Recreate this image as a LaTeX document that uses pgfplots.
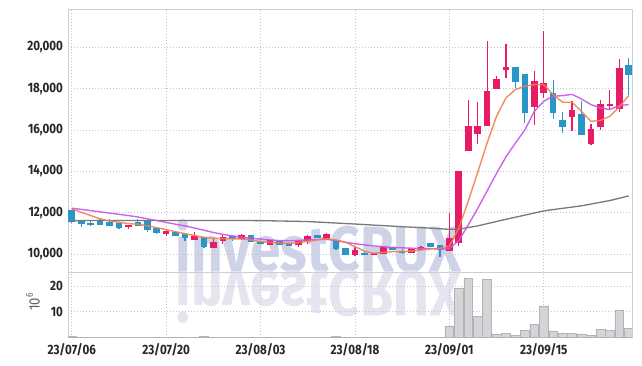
\documentclass[border=0pt]{standalone}
\usepackage{fontspec}
\setmainfont{Fira Sans}[FakeStretch=0.86]
\usepackage{pgfplots}
\pgfplotsset{compat=1.18}
\usepackage{pgfplotstable}

\definecolor{upc}{RGB}{232,28,100}
\definecolor{dnc}{RGB}{42,150,200}
\definecolor{ma1}{RGB}{240,128,80}
\definecolor{ma2}{RGB}{200,85,232}
\definecolor{ma3}{RGB}{120,120,120}
\definecolor{volf}{RGB}{213,213,216}
\definecolor{vold}{RGB}{178,178,184}
\definecolor{gridc}{RGB}{192,196,220}
\definecolor{framec}{RGB}{205,206,216}
\definecolor{txtc}{RGB}{38,38,38}
\definecolor{wm}{RGB}{206,211,231}
\definecolor{wmr}{RGB}{228,229,239}

\pgfplotstableread{
i o h l c
6 11295 11400 11200 11390
10 10970 11180 10870 11115
13 10710 11050 10690 10840
15 10305 10760 10290 10550
16 10630 10920 10500 10810
18 10760 10970 10700 10890
21 10435 10660 10420 10645
24 10435 10650 10340 10630
25 10630 10920 10470 10840
27 10760 11000 10700 10955
30 9950 10355 9900 10160
32 9950 10060 9930 10030
33 10030 10400 10000 10305
36 10065 10260 10040 10225
37 10195 10380 10170 10340
40 10170 11975 10150 10770
41 10550 14025 10390 14025
42 15010 17470 15010 16175
43 15800 17340 15335 16175
44 16210 20300 16180 17850
45 17990 18630 17960 18440
46 18935 20135 18520 19035
49 17145 18840 16255 18340
50 17795 20780 17550 18245
53 16660 17385 15965 16935
55 15335 16300 15290 16015
56 16175 17470 16015 17225
57 17180 17955 16985 17225
58 17015 19410 16855 19005
}\upc

\pgfplotstableread{
i o h l c
0 12100 12120 11490 11570
1 11570 11615 11330 11455
2 11490 11615 11370 11405
3 11585 11700 11380 11405
4 11520 11700 11370 11390
5 11490 11510 11230 11260
7 11520 11700 11340 11360
8 11615 11640 11065 11165
9 11245 11260 10990 11050
11 11050 11070 10870 10890
12 10955 10990 10645 10790
14 10810 10830 10275 10340
17 10870 10890 10650 10730
19 10890 10910 10580 10600
20 10565 10600 10470 10485
22 10615 10630 10420 10435
23 10515 10530 10380 10400
26 10890 10900 10790 10810
28 10645 10660 10190 10275
29 10275 10290 9985 9985
31 10015 10100 9950 9965
34 10325 10340 10180 10195
35 10145 10230 10020 10095
38 10520 10540 10340 10355
39 10400 10450 9870 10220
47 19020 19035 18040 18310
48 18680 18730 16340 16855
51 17795 18440 16530 16855
52 16450 16855 15855 16175
54 16740 17385 15770 15770
59 19120 19490 17710 18680
}\dnc

\pgfplotstableread{
i v
0 12180
1 12020
2 11860
3 11700
4 11600
5 11535
6 11470
7 11440
8 11370
9 11275
10 11180
11 11080
12 10985
13 10890
14 10810
15 10760
16 10740
17 10735
18 10725
19 10680
20 10600
21 10565
22 10535
23 10515
24 10550
25 10615
26 10680
27 10740
28 10680
29 10565
30 10355
31 10145
32 10035
33 10080
34 10115
35 10115
36 10145
37 10195
38 10245
39 10275
40 10380
41 11250
42 12550
43 13950
44 15370
45 16660
46 17550
47 17955
48 18115
49 18195
50 18195
51 17710
52 17340
53 17340
54 16900
55 16415
56 16465
57 16660
58 17115
59 17660
}\maA

\pgfplotstableread{
i v
0 12215
1 12160
2 12100
3 12040
4 11980
5 11920
6 11860
7 11790
8 11700
9 11620
10 11530
11 11440
12 11360
13 11260
14 11150
15 11040
16 10950
17 10880
18 10810
19 10760
20 10720
21 10680
22 10650
23 10640
24 10660
25 10680
26 10700
27 10710
28 10650
29 10570
30 10500
31 10440
32 10390
33 10350
34 10320
35 10300
36 10280
37 10270
38 10260
39 10240
40 10260
41 10650
42 11400
43 12200
44 13050
45 13900
46 14700
47 15370
48 16000
49 16900
50 17390
51 17630
52 17660
53 17720
54 17500
55 17225
56 17065
57 16985
58 17180
59 17225
}\maB

\pgfplotstableread{
i v
0 11615
10 11625
20 11615
25 11570
30 11450
35 11320
37 11275
40 11195
41 11200
43 11360
46 11680
48 11880
50 12085
52 12210
54 12330
57 12585
59 12810
}\maC

\pgfplotstableread{
i v
0 0.4
1 0.05
2 0.05
3 0.05
4 0.05
5 0.05
6 0.05
7 0.05
8 0.05
9 0.05
10 0.05
11 0.05
12 0.05
13 0.05
14 0.4
15 0.05
16 0.05
17 0.05
18 0.05
19 0.05
20 0.05
21 0.05
22 0.05
23 0.05
24 0.05
25 0.05
26 0.05
27 0.05
28 0.4
29 0.05
30 0.05
31 0.05
32 0.05
33 0.05
34 0.05
35 0.05
36 0.05
37 0.05
38 0.05
39 0.05
40 4.4
41 19.1
42 23.0
43 8.3
44 22.6
45 1.3
46 1.7
47 0.9
48 2.8
49 5.2
50 12.2
51 2.5
52 1.7
53 1.7
54 1.2
55 0.8
56 3.1
57 2.8
58 10.5
59 3.5
}\vol

\pgfplotsset{
  common/.style={
    scale only axis, width=564pt,
    xmin=-0.4, xmax=59.35,
    xtick={0,10,20,30,40,50},
    major tick length=0pt,
    grid=major,
    major grid style={draw=gridc, line width=0.7pt, dash pattern=on 0.8pt off 2.2pt},
    axis line style={draw=framec, line width=0.8pt},
    tick label style={font=\bfseries\fontsize{13.5}{14}\selectfont, text=txtc},
    yticklabel style={xshift=-1.5pt},
    /pgf/number format/.cd, 1000 sep={,}, assume math mode=true,
  },
}

\begin{document}
\begin{tikzpicture}
\path[use as bounding box, fill=white] (0pt,0pt) rectangle (642pt,366pt);
% watermark
\node[anchor=base, inner sep=0pt, text=wm, font=\bfseries\fontsize{64}{64}\selectfont] at (318.5pt,94pt) {investCRUX};
\node[anchor=base, inner sep=0pt, yscale=-1, text=wmr, font=\bfseries\fontsize{64}{64}\selectfont] at (318.5pt,94pt) {investCRUX};

\begin{axis}[common,
  at={(68pt,94pt)}, anchor=south west,
  height=263pt,
  ymin=9130, ymax=21850,
  ytick={10000,12000,14000,16000,18000,20000},
  xticklabels={},
  scaled y ticks=false,
]
% wicks
\addplot[draw=none, mark=none, forget plot,
  error bars/.cd, y dir=both, y explicit, error mark=none,
  error bar style={draw=upc, line width=1.2pt}]
  table[x=i, y expr={(\thisrow{h}+\thisrow{l})/2}, y error expr={(\thisrow{h}-\thisrow{l})/2}] {\upc};
\addplot[draw=none, mark=none, forget plot,
  error bars/.cd, y dir=both, y explicit, error mark=none,
  error bar style={draw=dnc, line width=1.2pt}]
  table[x=i, y expr={(\thisrow{h}+\thisrow{l})/2}, y error expr={(\thisrow{h}-\thisrow{l})/2}] {\dnc};
% bodies
\addplot[draw=none, mark=none, forget plot,
  error bars/.cd, y dir=both, y explicit, error mark=none,
  error bar style={draw=upc, line width=6.6pt}]
  table[x=i, y expr={(\thisrow{o}+\thisrow{c})/2}, y error expr={abs(\thisrow{c}-\thisrow{o})/2+12}] {\upc};
\addplot[draw=none, mark=none, forget plot,
  error bars/.cd, y dir=both, y explicit, error mark=none,
  error bar style={draw=dnc, line width=6.6pt}]
  table[x=i, y expr={(\thisrow{o}+\thisrow{c})/2}, y error expr={abs(\thisrow{c}-\thisrow{o})/2+12}] {\dnc};
% moving averages
\addplot[ma3, line width=1.3pt, mark=none] table[x=i, y=v] {\maC};
\addplot[ma2, line width=1.4pt, mark=none, opacity=0.9] table[x=i, y=v] {\maB};
\addplot[ma1, line width=1.4pt, mark=none, opacity=0.9] table[x=i, y=v] {\maA};
\end{axis}

\begin{axis}[common,
  at={(68pt,28.6pt)}, anchor=south west,
  height=65.4pt,
  ymin=0, ymax=25.4,
  ytick={10,20},
  xticklabels={23/07/06,23/07/20,23/08/03,23/08/18,23/09/01,23/09/15},
  xticklabel style={yshift=-3pt},
  ylabel={\fontsize{15}{16}\selectfont 10\raisebox{0.45em}{\fontsize{10}{11}\selectfont 6}},
  ylabel style={at={(axis description cs:-0.062,0.54)}, anchor=center, text=black!62},
]
\addplot[ybar, bar width=0.93, fill=volf, draw=vold, line width=0.5pt] table[x=i, y=v] {\vol};
\end{axis}
\end{tikzpicture}
\end{document}
